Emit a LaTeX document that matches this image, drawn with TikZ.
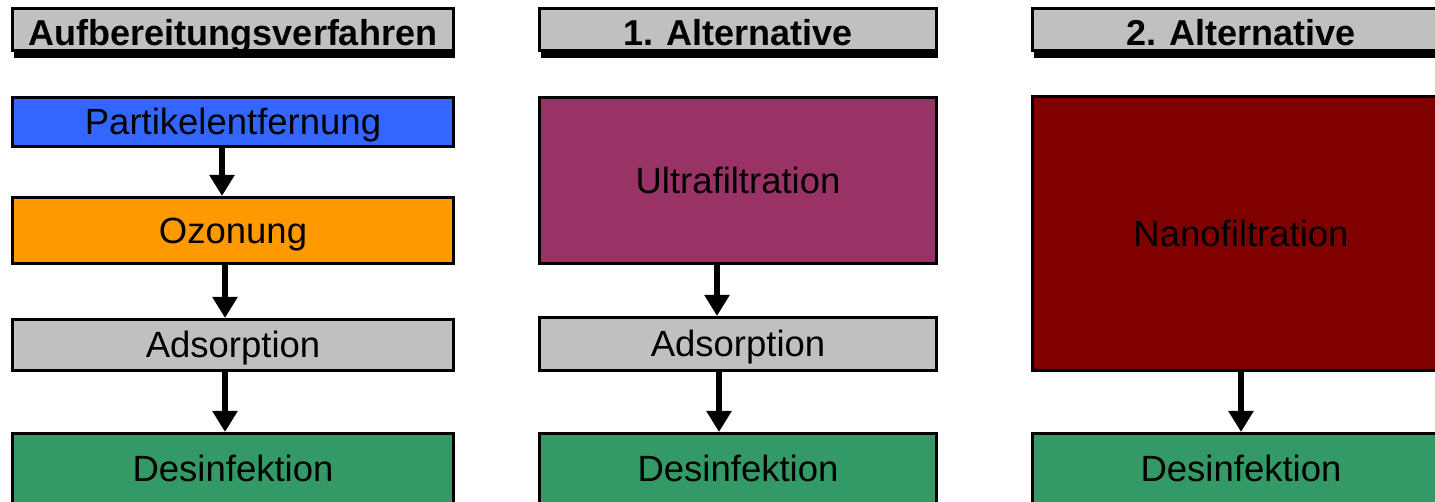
\documentclass[tikz,border=0pt]{standalone}
\usepackage{fontspec}
\setmainfont{Liberation Sans}
\usetikzlibrary{arrows.meta,shadows}

\definecolor{blau}{HTML}{3366FF}
\definecolor{orange}{HTML}{FF9900}
\definecolor{grau}{HTML}{C0C0C0}
\definecolor{gruen}{HTML}{339966}
\definecolor{lila}{HTML}{993366}
\definecolor{dunkelrot}{HTML}{800000}

\tikzset{
	box/.style = {draw = black, line width = 3pt, inner sep = 0pt, text height = 25.6pt, text depth = 0pt,
		font = \fontsize{36.5}{40}\selectfont},
	kopf/.style = {box, fill = grau, line width = 2.5pt, minimum height = 42pt, text height = 33pt,
		font = \fontsize{36}{40}\selectfont\bfseries,
		drop shadow = {shadow xshift = 1pt, shadow yshift = -8pt, fill = black, opacity = 1}},
	pfeil/.style = {line width = 5.5pt, -{Triangle[width = 24pt, length = 21pt]}}
}

\begin{document}
\begin{tikzpicture}[x = 1pt, y = -1pt]
	\useasboundingbox (0,0) rectangle (1435,502);
	% Kopfzeilen
	\foreach \x/\w/\n/\t in {233/441/k1/Aufbereitungsverfahren, 738/397/k2/1. Alternative, 1241/417/k3/2. Alternative}{
		\node [kopf, minimum width = \w pt] (\n) at (\x,29.5) {\t};
	}
	% Aufbereitungsverfahren
	\node [box, fill = blau, minimum width = 441pt, minimum height = 49pt] (part) at (233,122) {Partikelentfernung};
	\node [box, fill = orange, minimum width = 441pt, minimum height = 66pt] (ozon) at (233,230.5) {Ozonung};
	\node [box, fill = grau, minimum width = 441pt, minimum height = 51pt] (ads1) at (233,345) {Adsorption};
	% 1. Alternative
	\node [box, fill = lila, minimum width = 397pt, minimum height = 166pt] (ultra) at (738,180.5) {Ultrafiltration};
	\node [box, fill = grau, minimum width = 397pt, minimum height = 53pt] (ads2) at (738,344) {Adsorption};
	% 2. Alternative
	\node [box, fill = dunkelrot, minimum width = 417pt, minimum height = 274pt] (nano) at (1241,233.5) {Nanofiltration};
	% Desinfektion
	\foreach \x/\w/\n in {233/441/des1, 738/397/des2, 1241/417/des3}{
		\node [box, fill = gruen, minimum width = \w pt, minimum height = 71pt] (\n) at (\x,469) {Desinfektion};
	}
	% Pfeile
	\draw [pfeil] ([xshift = -11pt]part.south) -- ([xshift = -11pt]ozon.north);
	\draw [pfeil] ([xshift = -8pt]ozon.south) -- ([xshift = -8pt]ads1.north);
	\draw [pfeil] ([xshift = -8pt]ads1.south) -- ([xshift = -8pt]des1.north);
	\draw [pfeil] ([xshift = -21pt]ultra.south) -- ([xshift = -21pt]ads2.north);
	\draw [pfeil] ([xshift = -19pt]ads2.south) -- ([xshift = -19pt]des2.north);
	\draw [pfeil] (nano.south) -- (des3.north);
\end{tikzpicture}
\end{document}
